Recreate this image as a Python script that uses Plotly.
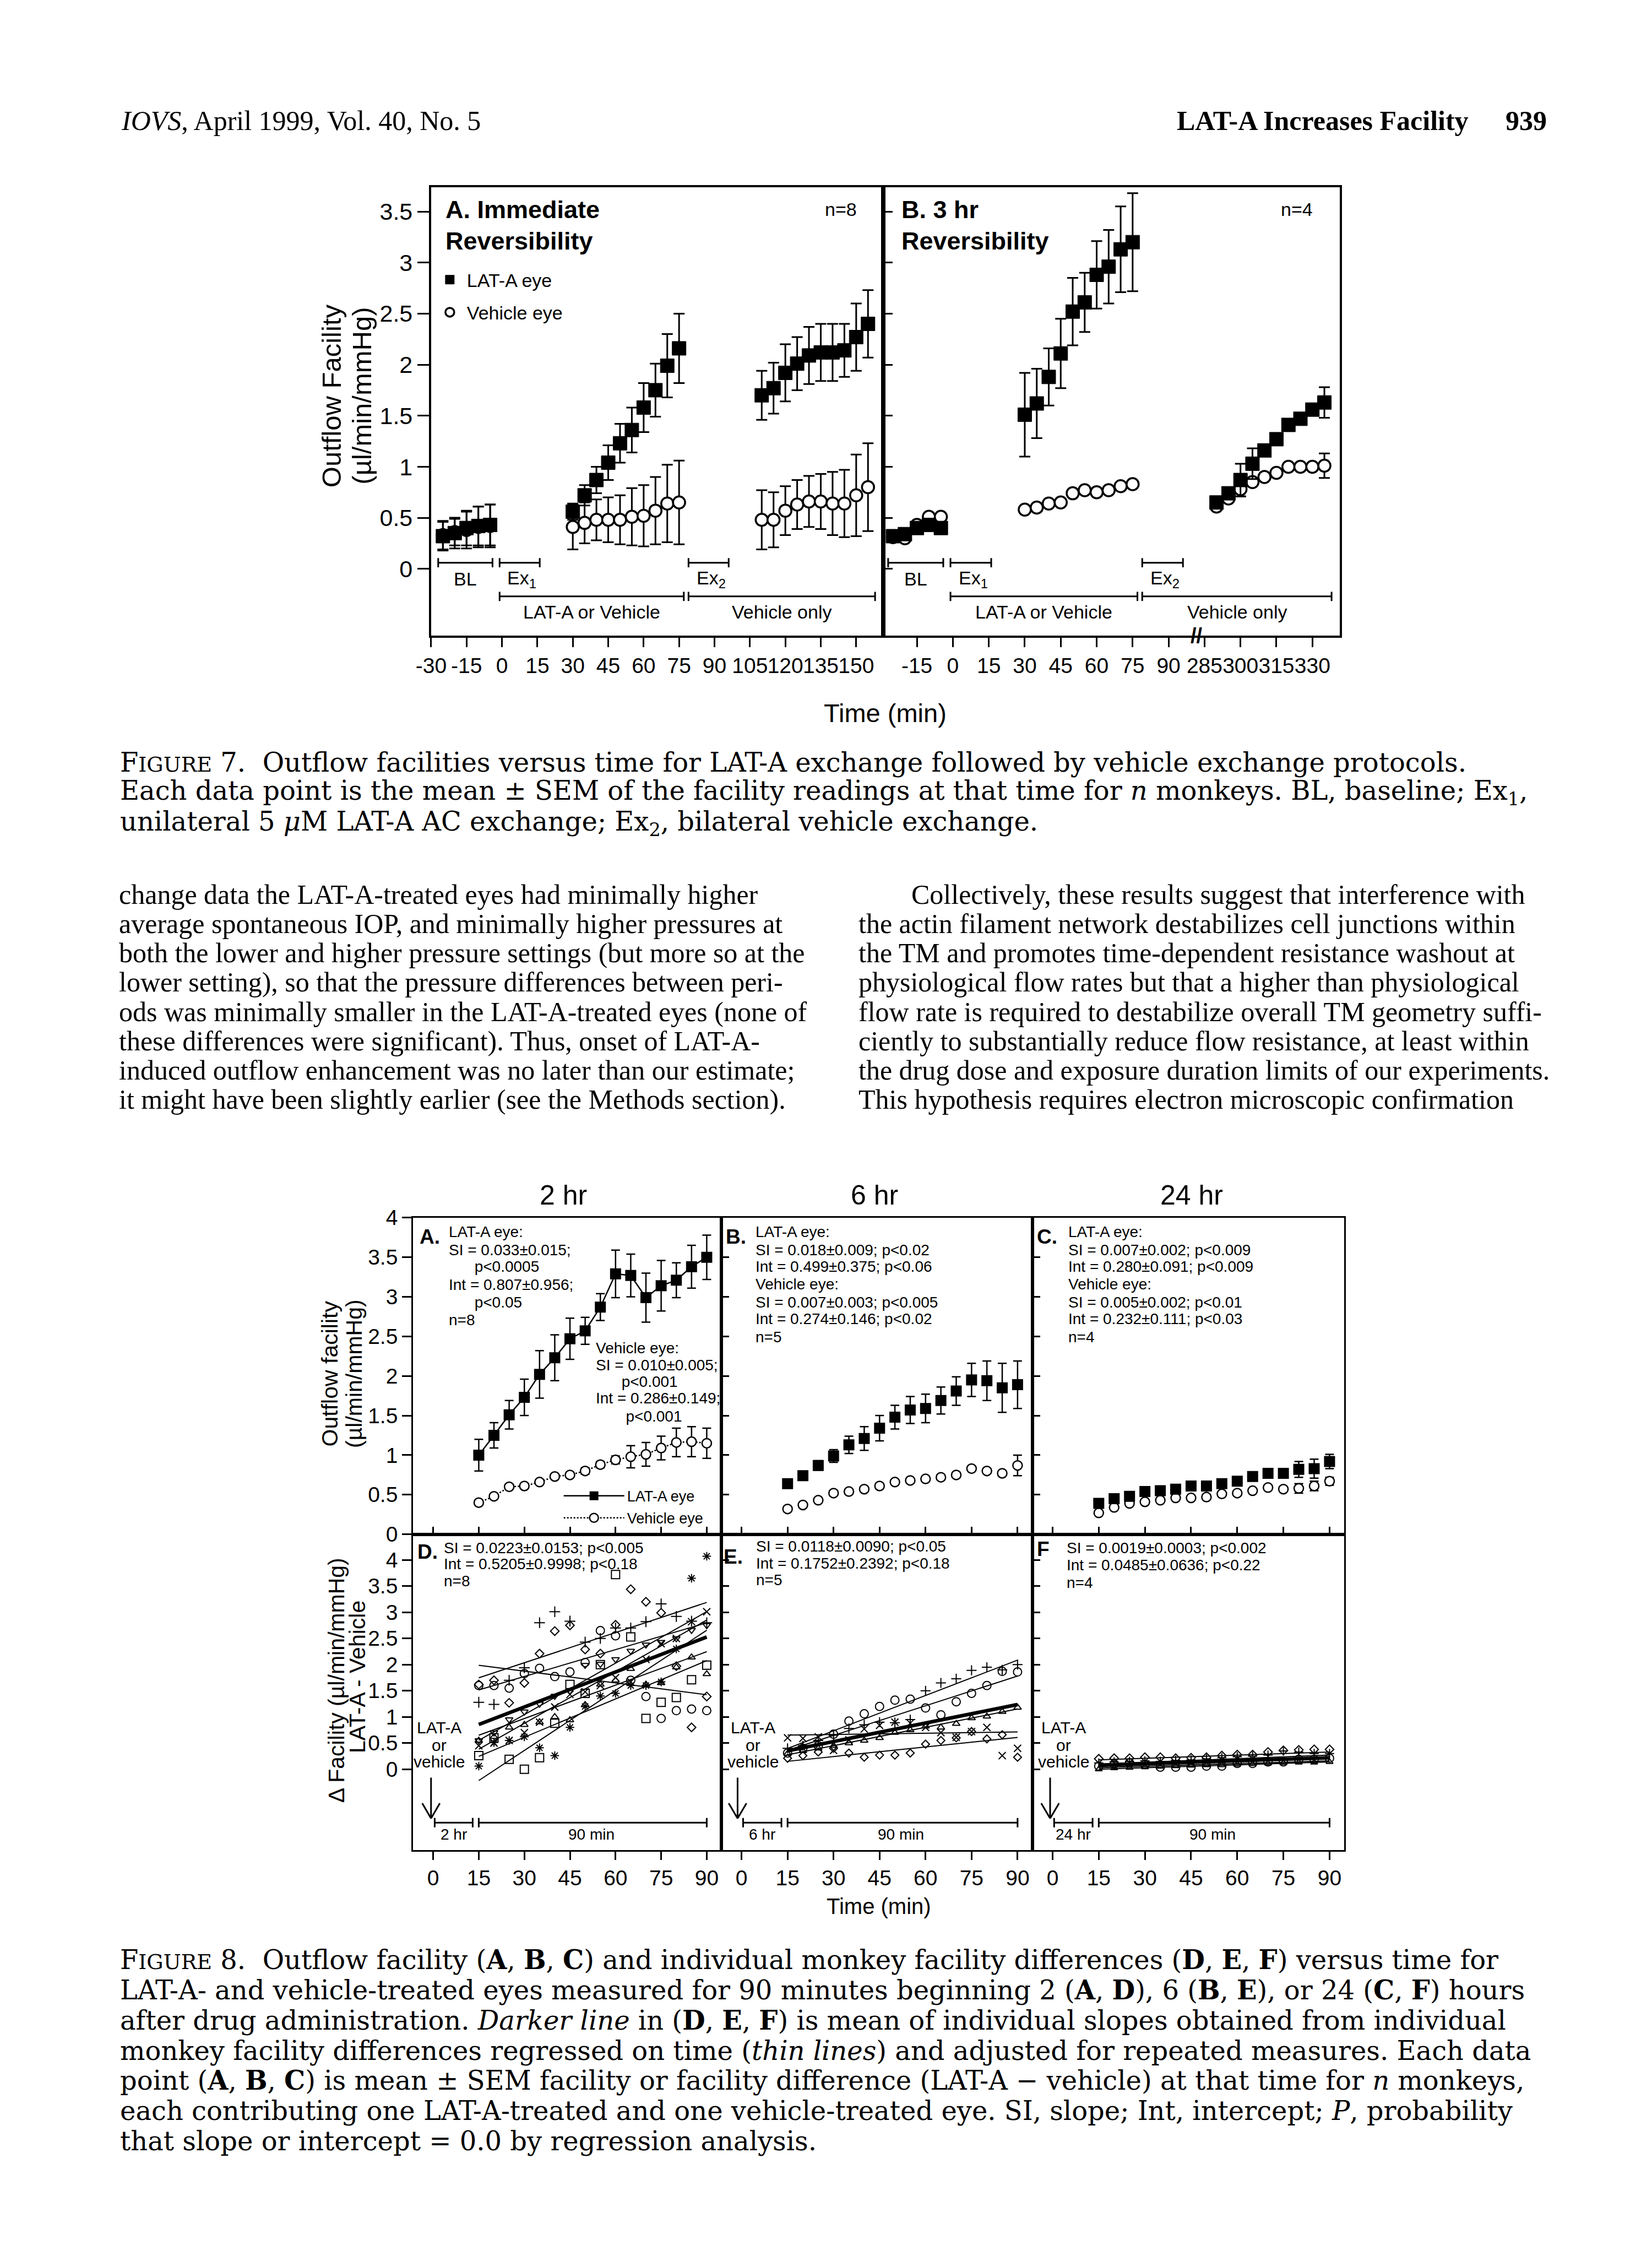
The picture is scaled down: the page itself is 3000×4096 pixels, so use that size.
import plotly.graph_objects as go

W, H = 3000, 4096

# ======================= DATA : FIGURE 7 =======================
f7_bl_t = [-25, -20, -15, -10, -5]
f7_ex1_t = [30, 35, 40, 45, 50, 55, 60, 65, 70, 75]
f7a_ex2_t = [110, 115, 120, 125, 130, 135, 140, 145, 150, 155]
f7b_ex2_t = [290, 295, 300, 305, 310, 315, 320, 325, 330, 335]
f7b_break_gap = 180  # minutes skipped by the axis break in panel B

f7a_lat_bl = [0.32, 0.35, 0.40, 0.42, 0.43]
f7a_lat_bl_sem = [0.14, 0.15, 0.17, 0.19, 0.20]
f7a_veh_bl = [0.33, 0.36, 0.38, 0.41, 0.42]
f7a_veh_bl_sem = [0.14, 0.13, 0.18, 0.20, 0.21]
f7a_lat_ex1 = [0.56, 0.72, 0.87, 1.04, 1.23, 1.36, 1.58, 1.75, 1.99, 2.16]
f7a_lat_ex1_sem = [0.08, 0.10, 0.13, 0.17, 0.19, 0.22, 0.24, 0.26, 0.31, 0.34]
f7a_veh_ex1 = [0.41, 0.45, 0.48, 0.48, 0.48, 0.51, 0.52, 0.57, 0.64, 0.65]
f7a_veh_ex1_sem = [0.22, 0.20, 0.20, 0.22, 0.24, 0.28, 0.30, 0.33, 0.38, 0.41]
f7a_lat_ex2 = [1.70, 1.77, 1.92, 2.01, 2.09, 2.12, 2.12, 2.14, 2.27, 2.40]
f7a_lat_ex2_sem = [0.24, 0.25, 0.28, 0.26, 0.28, 0.28, 0.28, 0.26, 0.33, 0.33]
f7a_veh_ex2 = [0.48, 0.48, 0.57, 0.63, 0.66, 0.66, 0.64, 0.64, 0.72, 0.80]
f7a_veh_ex2_sem = [0.29, 0.27, 0.24, 0.24, 0.25, 0.27, 0.31, 0.33, 0.40, 0.43]

f7b_lat_bl = [0.32, 0.34, 0.40, 0.43, 0.40]
f7b_lat_bl_sem = [0.02, 0.02, 0.02, 0.02, 0.02]
f7b_veh_bl = [0.31, 0.30, 0.43, 0.51, 0.51]
f7b_veh_bl_sem = [0.02, 0.02, 0.02, 0.02, 0.02]
f7b_lat_ex1 = [1.51, 1.62, 1.88, 2.11, 2.52, 2.61, 2.88, 2.96, 3.13, 3.20]
f7b_lat_ex1_sem = [0.41, 0.34, 0.28, 0.34, 0.33, 0.29, 0.33, 0.36, 0.42, 0.48]
f7b_veh_ex1 = [0.58, 0.60, 0.64, 0.65, 0.74, 0.77, 0.75, 0.77, 0.81, 0.83]
f7b_veh_ex1_sem = [0.03, 0.03, 0.03, 0.03, 0.03, 0.03, 0.03, 0.03, 0.03, 0.03]
f7b_lat_ex2 = [0.65, 0.74, 0.87, 1.03, 1.16, 1.27, 1.41, 1.47, 1.56, 1.63]
f7b_lat_ex2_sem = [0.03, 0.05, 0.16, 0.15, 0.05, 0.05, 0.05, 0.05, 0.05, 0.15]
f7b_veh_ex2 = [0.61, 0.69, 0.78, 0.85, 0.90, 0.94, 1.00, 1.00, 1.00, 1.01]
f7b_veh_ex2_sem = [0.03, 0.03, 0.07, 0.03, 0.03, 0.03, 0.03, 0.03, 0.03, 0.12]

f7a_xticks = [-30, -15, 0, 15, 30, 45, 60, 75, 90, 105, 120, 135, 150]
f7a_xticktext = ["-30", "-15", "0", "15", "30", "45", "60", "75", "90", "105", "120", "135", "150"]
f7b_xtick_minutes = [-15, 0, 15, 30, 45, 60, 75, 90, 285, 300, 315, 330]
f7b_xticktext = ["-15", "0", "15", "30", "45", "60", "75", "90", "285", "300", "315", "330"]
f7_yticks = [0, 0.5, 1, 1.5, 2, 2.5, 3, 3.5]
f7_yticktext = ["0", "0.5", "1", "1.5", "2", "2.5", "3", "3.5"]

# protocol windows (minutes, as plotted)
f7_bl_win = [-27, -4]
f7_ex1_win = [-1, 16]
f7_ex2_win = [79, 96]
f7_drug_win = [-1, 77]
f7_vehonly_win = [79, 158]

# ======================= DATA : FIGURE 8 =======================
f8_t = [15, 20, 25, 30, 35, 40, 45, 50, 55, 60, 65, 70, 75, 80, 85, 90]
f8_xticks = [0, 15, 30, 45, 60, 75, 90]
f8_xticktext = ["0", "15", "30", "45", "60", "75", "90"]
f8_yticks = [0, 0.5, 1, 1.5, 2, 2.5, 3, 3.5, 4]
f8_yticktext = ["0", "0.5", "1", "1.5", "2", "2.5", "3", "3.5", "4"]

# 2 hr
f8a_lat = [1.00, 1.25, 1.51, 1.73, 2.02, 2.23, 2.47, 2.57, 2.87, 3.29, 3.27, 2.99, 3.14, 3.21, 3.38, 3.50]
f8a_lat_sem = [0.20, 0.16, 0.18, 0.23, 0.30, 0.29, 0.26, 0.17, 0.17, 0.30, 0.27, 0.31, 0.32, 0.22, 0.27, 0.28]
f8a_veh = [0.40, 0.48, 0.60, 0.61, 0.66, 0.73, 0.75, 0.80, 0.88, 0.94, 0.98, 1.01, 1.09, 1.16, 1.17, 1.15]
f8a_veh_sem = [0.03, 0.03, 0.03, 0.03, 0.03, 0.03, 0.03, 0.04, 0.04, 0.05, 0.14, 0.15, 0.15, 0.18, 0.19, 0.19]
# 6 hr
f8b_lat = [0.64, 0.74, 0.87, 0.99, 1.13, 1.21, 1.34, 1.48, 1.57, 1.59, 1.69, 1.81, 1.95, 1.94, 1.85, 1.89]
f8b_lat_sem = [0.04, 0.05, 0.06, 0.08, 0.11, 0.15, 0.16, 0.15, 0.17, 0.18, 0.17, 0.18, 0.21, 0.25, 0.31, 0.30]
f8b_veh = [0.32, 0.37, 0.43, 0.52, 0.54, 0.57, 0.61, 0.66, 0.68, 0.70, 0.72, 0.75, 0.83, 0.80, 0.77, 0.87]
f8b_veh_sem = [0.03, 0.03, 0.03, 0.03, 0.03, 0.03, 0.03, 0.03, 0.03, 0.03, 0.03, 0.03, 0.03, 0.03, 0.03, 0.13]
# 24 hr
f8c_lat = [0.39, 0.45, 0.48, 0.54, 0.55, 0.57, 0.61, 0.61, 0.64, 0.67, 0.73, 0.77, 0.77, 0.82, 0.83, 0.92]
f8c_lat_sem = [0.03, 0.03, 0.03, 0.03, 0.03, 0.03, 0.03, 0.03, 0.03, 0.04, 0.04, 0.05, 0.06, 0.10, 0.12, 0.09]
f8c_veh = [0.27, 0.34, 0.39, 0.41, 0.43, 0.46, 0.46, 0.47, 0.51, 0.52, 0.55, 0.59, 0.57, 0.58, 0.61, 0.67]
f8c_veh_sem = [0.02, 0.02, 0.02, 0.02, 0.02, 0.02, 0.02, 0.02, 0.02, 0.02, 0.02, 0.03, 0.03, 0.06, 0.06, 0.05]

# individual monkey differences (LAT-A - vehicle)
f8d_circle = [1.60, 1.60, 1.55, 1.83, 1.93, 1.77, 1.86, 2.04, 2.65, 2.55, 1.70, 1.39, 0.97, 1.12, 1.15, 1.12]
f8d_diamond = [1.62, 1.70, 1.27, 1.65, 2.21, 2.64, 2.75, 2.29, 2.21, 2.76, 3.44, 3.20, 2.99, 1.97, 0.80, 1.39]
f8d_plus = [1.28, 1.24, 1.70, 1.94, 2.80, 3.01, 2.83, 2.43, 2.50, 2.70, 2.70, 2.82, 3.16, 2.92, 2.83, 2.80]
f8d_square = [0.26, 0.60, 0.19, 0.00, 0.22, 0.88, 1.62, 1.45, 2.00, 3.72, 2.53, 0.97, 1.28, 1.37, 1.71, 1.99]
f8d_cross = [0.45, 0.50, 0.55, 0.70, 0.90, 1.19, 1.43, 1.48, 1.60, 1.75, 1.67, 2.10, 2.40, 2.50, 2.82, 3.01]
f8d_star = [0.06, 0.51, 0.55, 0.62, 0.41, 0.26, 0.80, 1.20, 1.40, 1.45, 1.60, 1.60, 1.67, 2.30, 3.65, 4.07]
f8d_triup = [0.55, 0.62, 0.80, 0.85, 0.90, 1.00, 0.94, 1.23, 1.62, 1.70, 1.92, 1.62, 1.65, 1.95, 2.14, 1.82]
f8d_tridown = [0.55, 0.70, 0.95, 1.10, 1.25, 1.40, 1.50, 1.99, 2.01, 2.10, 2.26, 2.38, 2.43, 2.50, 2.66, 2.75]
f8d_slopes = [-0.0075, 0.0192, 0.0171, 0.0383, 0.0328, 0.0244, 0.0213, 0.0329]
f8d_ints = [2.10, 1.46, 1.26, -0.79, 0.06, -0.12, 0.33, -0.11]

f8e_circle = [0.31, 0.40, 0.45, 0.67, 0.92, 1.06, 1.20, 1.32, 1.34, 1.17, 1.04, 1.29, 1.45, 1.60, 1.87, 1.86]
f8e_plus = [0.40, 0.45, 0.55, 0.65, 0.78, 0.85, 0.90, 0.89, 0.95, 1.50, 1.65, 1.73, 1.89, 1.95, 1.90, 2.00]
f8e_cross = [0.60, 0.59, 0.62, 0.36, 0.56, 0.77, 0.84, 0.90, 0.88, 0.80, 0.70, 0.61, 0.72, 0.80, 0.26, 0.40]
f8e_triup = [0.30, 0.35, 0.40, 0.45, 0.50, 0.55, 0.60, 0.70, 0.75, 0.82, 0.80, 0.87, 0.98, 1.01, 1.10, 1.18]
f8e_diamond = [0.21, 0.26, 0.33, 0.40, 0.31, 0.23, 0.27, 0.27, 0.31, 0.48, 0.55, 0.60, 0.72, 0.58, 0.66, 0.23]
f8e_slopes = [0.0189, 0.0225, 0.0008, 0.0117, 0.0061]
f8e_ints = [0.08, 0.06, 0.64, 0.10, 0.06]

f8f_circle = [0.06, 0.10, 0.12, 0.09, 0.04, 0.04, 0.04, 0.06, 0.06, 0.11, 0.11, 0.14, 0.14, 0.19, 0.19, 0.21]
f8f_diamond = [0.20, 0.21, 0.21, 0.23, 0.23, 0.21, 0.22, 0.23, 0.26, 0.28, 0.28, 0.33, 0.36, 0.37, 0.38, 0.38]
f8f_plus = [0.12, 0.14, 0.15, 0.16, 0.15, 0.17, 0.18, 0.20, 0.22, 0.24, 0.25, 0.27, 0.35, 0.33, 0.30, 0.30]
f8f_triup = [0.00, 0.02, 0.03, 0.04, 0.05, 0.06, 0.07, 0.08, 0.08, 0.09, 0.10, 0.11, 0.12, 0.13, 0.13, 0.14]
f8f_slopes = [0.00173, 0.0020, 0.00227, 0.00187]
f8f_ints = [0.004, 0.15, 0.066, -0.028]

f8_fit_t = [15, 90]
f8_mean_slope = [0.0223, 0.0118, 0.0019]
f8_mean_int = [0.5205, 0.1752, 0.0485]
f8_pre_win = [0.5, 13]
f8_run_win = [15, 90]
f8_pre_labels = ["2 hr", "6 hr", "24 hr"]
f8_col_titles = ["2 hr", "6 hr", "24 hr"]

# ======================= TEXT =======================
header_left = "<i>IOVS</i>, April 1999, Vol. 40, No. 5"
header_right = "<b>LAT-A Increases Facility</b>"
header_page = "<b>939</b>"

cap7 = [
    "F<span style='font-size:38px'>IGURE</span> 7.  Outflow facilities versus time for LAT-A exchange followed by vehicle exchange protocols.",
    "Each data point is the mean ± SEM of the facility readings at that time for <i>n</i> monkeys. BL, baseline; Ex<sub>1</sub>,",
    "unilateral 5 <i>μ</i>M LAT-A AC exchange; Ex<sub>2</sub>, bilateral vehicle exchange.",
]
body_left = [
    "change data the LAT-A-treated eyes had minimally higher",
    "average spontaneous IOP, and minimally higher pressures at",
    "both the lower and higher pressure settings (but more so at the",
    "lower setting), so that the pressure differences between peri-",
    "ods was minimally smaller in the LAT-A-treated eyes (none of",
    "these differences were significant). Thus, onset of LAT-A-",
    "induced outflow enhancement was no later than our estimate;",
    "it might have been slightly earlier (see the Methods section).",
]
body_right = [
    "Collectively, these results suggest that interference with",
    "the actin filament network destabilizes cell junctions within",
    "the TM and promotes time-dependent resistance washout at",
    "physiological flow rates but that a higher than physiological",
    "flow rate is required to destabilize overall TM geometry suffi-",
    "ciently to substantially reduce flow resistance, at least within",
    "the drug dose and exposure duration limits of our experiments.",
    "This hypothesis requires electron microscopic confirmation",
]
cap8 = [
    "F<span style='font-size:38px'>IGURE</span> 8.  Outflow facility (<b>A</b>, <b>B</b>, <b>C</b>) and individual monkey facility differences (<b>D</b>, <b>E</b>, <b>F</b>) versus time for",
    "LAT-A- and vehicle-treated eyes measured for 90 minutes beginning 2 (<b>A</b>, <b>D</b>), 6 (<b>B</b>, <b>E</b>), or 24 (<b>C</b>, <b>F</b>) hours",
    "after drug administration. <i>Darker line</i> in (<b>D</b>, <b>E</b>, <b>F</b>) is mean of individual slopes obtained from individual",
    "monkey facility differences regressed on time (<i>thin lines</i>) and adjusted for repeated measures. Each data",
    "point (<b>A</b>, <b>B</b>, <b>C</b>) is mean ± SEM facility or facility difference (LAT-A − vehicle) at that time for <i>n</i> monkeys,",
    "each contributing one LAT-A-treated and one vehicle-treated eye. SI, slope; Int, intercept; <i>P</i>, probability",
    "that slope or intercept = 0.0 by regression analysis.",
]
f8_top_text = [
    ["LAT-A eye:", "SI = 0.033±0.015;", "      p&lt;0.0005", "Int = 0.807±0.956;", "      p&lt;0.05", "n=8"],
    ["LAT-A eye:", "SI = 0.018±0.009; p&lt;0.02", "Int = 0.499±0.375; p&lt;0.06", "Vehicle eye:",
     "SI = 0.007±0.003; p&lt;0.005", "Int = 0.274±0.146; p&lt;0.02", "n=5"],
    ["LAT-A eye:", "SI = 0.007±0.002; p&lt;0.009", "Int = 0.280±0.091; p&lt;0.009", "Vehicle eye:",
     "SI = 0.005±0.002; p&lt;0.01", "Int = 0.232±0.111; p&lt;0.03", "n=4"],
]
f8a_veh_text = ["Vehicle eye:", "SI = 0.010±0.005;", "      p&lt;0.001", "Int = 0.286±0.149;", "       p&lt;0.001"]
f8_bot_text = [
    ["SI = 0.0223±0.0153; p&lt;0.005", "Int = 0.5205±0.9998; p&lt;0.18", "n=8"],
    ["SI = 0.0118±0.0090; p&lt;0.05", "Int = 0.1752±0.2392; p&lt;0.18", "n=5"],
    ["SI = 0.0019±0.0003; p&lt;0.002", "Int = 0.0485±0.0636; p&lt;0.22", "n=4"],
]

# ======================= STYLE HELPERS =======================
SANS = "Liberation Sans, Arial, sans-serif"
NARROW = "Liberation Sans Narrow, Arial Narrow, Liberation Sans, Arial, sans-serif"
SERIF = "Liberation Serif, Times New Roman, serif"
CAPSERIF = "DejaVu Serif, serif"


def PX(v):
    return v / W


def PY(v):
    return 1 - v / H


anns = []
shapes = []


def T(text, x, y, xref="paper", yref="paper", size=30, family=SANS, xanchor="center",
      yanchor="middle", angle=0):
    anns.append(dict(text=text, x=x, y=y, xref=xref, yref=yref, showarrow=False,
                     font=dict(size=size, family=family, color="black"),
                     xanchor=xanchor, yanchor=yanchor, textangle=angle))


def seg(x0, y0, x1, y1, xref, yref, w):
    shapes.append(dict(type="line", x0=x0, y0=y0, x1=x1, y1=y1, xref=xref, yref=yref,
                       line=dict(color="black", width=w)))


def bracket(win, y, h, xref, yref, w):
    seg(win[0], y, win[1], y, xref, yref, w)
    seg(win[0], y - h, win[0], y + h, xref, yref, w)
    seg(win[1], y - h, win[1], y + h, xref, yref, w)


def down_arrow(x, y_top, y_tip, head_dx, head_dy, xref, yref, w):
    seg(x, y_top, x, y_tip, xref, yref, w)
    seg(x - head_dx, y_tip + head_dy, x, y_tip, xref, yref, w)
    seg(x + head_dx, y_tip + head_dy, x, y_tip, xref, yref, w)


fig = go.Figure()

# ======================= FIGURE 7 TRACES =======================
def f7_panel(xa, ya, lat_t, lat_v, lat_e, veh_t, veh_v, veh_e, show):
    fig.add_trace(go.Scatter(
        x=veh_t, y=veh_v, mode="markers", xaxis=xa, yaxis=ya, name="Vehicle eye",
        legend="legend", legendgroup="veh7", legendrank=2, showlegend=show,
        marker=dict(symbol="circle", size=22, color="white", line=dict(color="black", width=3.5)),
        error_y=dict(type="data", array=veh_e, color="black", thickness=3, width=10)))
    fig.add_trace(go.Scatter(
        x=lat_t, y=lat_v, mode="markers", xaxis=xa, yaxis=ya, name="LAT-A eye",
        legend="legend", legendgroup="lat7", legendrank=1, showlegend=show,
        marker=dict(symbol="square", size=25, color="black", line=dict(color="black", width=1)),
        error_y=dict(type="data", array=lat_e, color="black", thickness=3, width=10)))


f7a_t_all = f7_bl_t + f7_ex1_t + f7a_ex2_t
f7_panel("x", "y",
         f7a_t_all, f7a_lat_bl + f7a_lat_ex1 + f7a_lat_ex2, f7a_lat_bl_sem + f7a_lat_ex1_sem + f7a_lat_ex2_sem,
         f7a_t_all, f7a_veh_bl + f7a_veh_ex1 + f7a_veh_ex2, f7a_veh_bl_sem + f7a_veh_ex1_sem + f7a_veh_ex2_sem,
         True)
f7b_t_all = f7_bl_t + f7_ex1_t + [t - f7b_break_gap for t in f7b_ex2_t]
f7_panel("x2", "y2",
         f7b_t_all, f7b_lat_bl + f7b_lat_ex1 + f7b_lat_ex2, f7b_lat_bl_sem + f7b_lat_ex1_sem + f7b_lat_ex2_sem,
         f7b_t_all, f7b_veh_bl + f7b_veh_ex1 + f7b_veh_ex2, f7b_veh_bl_sem + f7b_veh_ex1_sem + f7b_veh_ex2_sem,
         False)

# ======================= FIGURE 8 TRACES =======================
top_sets = [("x3", "y3", f8a_lat, f8a_lat_sem, f8a_veh, f8a_veh_sem, True),
            ("x4", "y4", f8b_lat, f8b_lat_sem, f8b_veh, f8b_veh_sem, False),
            ("x5", "y5", f8c_lat, f8c_lat_sem, f8c_veh, f8c_veh_sem, False)]
for xa, ya, lat, lat_e, veh, veh_e, first in top_sets:
    fig.add_trace(go.Scatter(
        x=f8_t, y=veh, xaxis=xa, yaxis=ya, mode="lines+markers" if first else "markers",
        name="Vehicle eye", legend="legend2", legendgroup="veh8", legendrank=2, showlegend=first,
        line=dict(color="black", width=2.5, dash="dot"),
        marker=dict(symbol="circle", size=17, color="white", line=dict(color="black", width=2.5)),
        error_y=dict(type="data", array=veh_e, color="black", thickness=2.5, width=8)))
    fig.add_trace(go.Scatter(
        x=f8_t, y=lat, xaxis=xa, yaxis=ya, mode="lines+markers" if first else "markers",
        name="LAT-A eye", legend="legend2", legendgroup="lat8", legendrank=1, showlegend=first,
        line=dict(color="black", width=2.5),
        marker=dict(symbol="square", size=20, color="black"),
        error_y=dict(type="data", array=lat_e, color="black", thickness=2.5, width=8)))

bot_sets = [
    ("x6", "y6",
     [f8d_circle, f8d_diamond, f8d_plus, f8d_square, f8d_cross, f8d_star, f8d_triup, f8d_tridown],
     ["circle-open", "diamond-open", "cross-thin-open", "square-open", "x-thin-open", "asterisk-open",
      "triangle-up-open", "triangle-down-open"],
     [15, 12, 14, 15, 13, 13, 12, 12], f8d_slopes, f8d_ints, 0),
    ("x7", "y7",
     [f8e_circle, f8e_plus, f8e_cross, f8e_triup, f8e_diamond],
     ["circle-open", "cross-thin-open", "x-thin-open", "triangle-up-open", "diamond-open"],
     [15, 13, 13, 12, 11], f8e_slopes, f8e_ints, 1),
    ("x8", "y8",
     [f8f_circle, f8f_diamond, f8f_plus, f8f_triup],
     ["circle-open", "diamond-open", "cross-thin-open", "triangle-up-open"],
     [15, 12, 12, 11], f8f_slopes, f8f_ints, 2),
]
for xa, ya, series, syms, sizes, slopes, ints, k in bot_sets:
    for vals, sym, sz in zip(series, syms, sizes):
        fig.add_trace(go.Scatter(x=f8_t, y=vals, xaxis=xa, yaxis=ya, mode="markers", showlegend=False,
                                 marker=dict(symbol=sym, size=sz, color="black",
                                             line=dict(color="black", width=2))))
    for s, b in zip(slopes, ints):
        fig.add_trace(go.Scatter(x=f8_fit_t, y=[b + s * t for t in f8_fit_t], xaxis=xa, yaxis=ya,
                                 mode="lines", showlegend=False, line=dict(color="black", width=2)))
    fig.add_trace(go.Scatter(x=f8_fit_t, y=[f8_mean_int[k] + f8_mean_slope[k] * t for t in f8_fit_t],
                             xaxis=xa, yaxis=ya, mode="lines", showlegend=False,
                             line=dict(color="black", width=6.5)))

# ======================= AXES =======================
def axis(domain, rng, anchor, ticks, tickvals, ticktext, showlabels, fsize, family, lw, tl, tw):
    return dict(domain=domain, range=rng, anchor=anchor, showline=True, linecolor="black",
                linewidth=lw, mirror=True, ticks=ticks, ticklen=tl, tickwidth=tw, tickcolor="black",
                tickmode="array", tickvals=tickvals, ticktext=ticktext, showticklabels=showlabels,
                tickangle=0, tickfont=dict(size=fsize, family=family, color="black"),
                showgrid=False, zeroline=False, fixedrange=True)


f7_ydom = [PY(1145), PY(322)]
f7_yr = [-0.654, 3.74]
f7b_xtickpos = [m - f7b_break_gap if m > 200 else m for m in f7b_xtick_minutes]

lay = dict(
    xaxis=axis([PX(762), PX(1591)], [-30, 161.5], "y", "outside", f7a_xticks, f7a_xticktext, True, 39, SANS, 4, 17, 3),
    yaxis=axis(f7_ydom, f7_yr, "x", "outside", f7_yticks, f7_yticktext, True, 43, SANS, 4, 21, 3),
    xaxis2=axis([PX(1591), PX(2428)], [-29, 161.5], "y2", "outside", f7b_xtickpos, f7b_xticktext, True, 39, SANS, 4, 17, 3),
    yaxis2=axis(f7_ydom, f7_yr, "x2", "inside", f7_yticks, f7_yticktext, False, 40, SANS, 4, 17, 3),
)
f8_xdoms = [[PX(729), PX(1294)], [PX(1294), PX(1864)], [PX(1864), PX(2436)]]
f8_top_dom = [PY(2794), PY(2213)]
f8_bot_dom = [PY(3373), PY(2794)]
f8_xr = [-6.6, 94.8]
for i in range(3):
    n_top = 3 + i
    n_bot = 6 + i
    lay["xaxis%d" % n_top] = axis(f8_xdoms[i], f8_xr, "y%d" % n_top, "inside", f8_xticks, f8_xticktext, False, 39, NARROW, 3, 14, 2.5)
    lay["yaxis%d" % n_top] = axis(f8_top_dom, [0, 4], "x%d" % n_top, "outside" if i == 0 else "inside",
                                  f8_yticks, f8_yticktext, i == 0, 39, NARROW, 3, 17 if i == 0 else 14, 2.5)
    lay["xaxis%d" % n_bot] = axis(f8_xdoms[i], f8_xr, "y%d" % n_bot, "outside", f8_xticks, f8_xticktext, True, 39, NARROW, 3, 15, 2.5)
    lay["yaxis%d" % n_bot] = axis(f8_bot_dom, [-1.54, 4.49], "x%d" % n_bot, "outside" if i == 0 else "inside",
                                  f8_yticks, f8_yticktext, i == 0, 39, NARROW, 3, 17 if i == 0 else 14, 2.5)

# ======================= FIGURE 7 ANNOTATIONS =======================
for xr, yr, title, nlab, tx in [("x", "y", "A. Immediate", "n=8", -24.4), ("x2", "y2", "B. 3 hr", "n=4", -21.8)]:
    T("<b>%s</b>" % title, tx, 3.52, xr, yr, 45, SANS, "left")
    T("<b>Reversibility</b>", tx, 3.21, xr, yr, 45, SANS, "left")
    T(nlab, 143.5, 3.52, xr, yr, 34, SANS)
    for win in (f7_bl_win, f7_ex1_win, f7_ex2_win):
        bracket(win, 0.06, 0.045, xr, yr, 3)
    for win in (f7_drug_win, f7_vehonly_win):
        bracket(win, -0.27, 0.045, xr, yr, 3)
    T("BL", (f7_bl_win[0] + f7_bl_win[1]) / 2, -0.1, xr, yr, 34, SANS)
    T("Ex<sub>1</sub>", (f7_ex1_win[0] + f7_ex1_win[1]) / 2 + 1, -0.1, xr, yr, 34, SANS)
    T("Ex<sub>2</sub>", (f7_ex2_win[0] + f7_ex2_win[1]) / 2 + 1, -0.1, xr, yr, 34, SANS)
    T("LAT-A or Vehicle", (f7_drug_win[0] + f7_drug_win[1]) / 2, -0.42, xr, yr, 34, SANS)
    T("Vehicle only", (f7_vehonly_win[0] + f7_vehonly_win[1]) / 2, -0.42, xr, yr, 34, SANS)
T("<b>//</b>", 101.6, f7_yr[0], "x2", "y2", 38, SANS)
T("Outflow Facility", PX(579), PY(705), size=49, family=SANS, angle=-90)
T("(µl/min/mmHg)", PX(635), PY(705), size=49, family=SANS, angle=-90)
T("Time (min)", PX(1594), PY(1287), size=47, family=SANS)

# ======================= FIGURE 8 ANNOTATIONS =======================
col_x = [1004, 1575, 2156]
for i in range(3):
    T(f8_col_titles[i], PX(col_x[i]), PY(2172), size=50, family=NARROW)

top_line_y = [[3.82, 3.59, 3.38, 3.15, 2.93, 2.71], [3.82, 3.59, 3.38, 3.16, 2.93, 2.72, 2.49],
              [3.82, 3.59, 3.38, 3.16, 2.93, 2.72, 2.49]]
top_letter = [("A.", -1.2), ("B.", -1.8), ("C.", -1.7)]
top_left_x = [4.7, 4.2, 4.7]
for i in range(3):
    xr, yr = "x%d" % (3 + i), "y%d" % (3 + i)
    T("<b>%s</b>" % top_letter[i][0], top_letter[i][1], 3.76, xr, yr, 37, NARROW)
    for line, yy in zip(f8_top_text[i], top_line_y[i]):
        T(line, top_left_x[i], yy, xr, yr, 28, NARROW, "left")
for line, yy in zip(f8a_veh_text, [2.35, 2.14, 1.93, 1.72, 1.49]):
    T(line, 53.1, yy, "x3", "y3", 28, NARROW, "left")

bot_letter = [("D.", -1.9, 4.16), ("E.", -2.7, 4.06), ("F", -3.1, 4.21)]
bot_left_x = [3.2, 4.4, 4.2]
bot_line_y = [[4.23, 3.92, 3.60], [4.26, 3.93, 3.62], [4.23, 3.90, 3.57]]
lata_x = [2.0, 3.7, 3.5]
arrow_x = [-0.7, -1.3, -0.8]
for i in range(3):
    xr, yr = "x%d" % (6 + i), "y%d" % (6 + i)
    T("<b>%s</b>" % bot_letter[i][0], bot_letter[i][1], bot_letter[i][2], xr, yr, 37, NARROW)
    for line, yy in zip(f8_bot_text[i], bot_line_y[i]):
        T(line, bot_left_x[i], yy, xr, yr, 28, NARROW, "left")
    T("LAT-A", lata_x[i], 0.80, xr, yr, 30, NARROW)
    T("or", lata_x[i], 0.46, xr, yr, 30, NARROW)
    T("vehicle", lata_x[i], 0.14, xr, yr, 30, NARROW)
    down_arrow(arrow_x[i], -0.16, -0.94, 2.9, 0.29, xr, yr, 3)
    bracket(f8_pre_win, -1.02, 0.09, xr, yr, 3)
    bracket(f8_run_win, -1.02, 0.09, xr, yr, 3)
    T(f8_pre_labels[i], (f8_pre_win[0] + f8_pre_win[1]) / 2, -1.24, xr, yr, 28, NARROW)
    T("90 min", (f8_run_win[0] + f8_run_win[1]) / 2 - 0.5, -1.24, xr, yr, 28, NARROW)

T("Outflow facility", PX(576), PY(2499), size=41, family=NARROW, angle=-90)
T("(µl/min/mmHg)", PX(621), PY(2499), size=41, family=NARROW, angle=-90)
T("Δ Facility (µl/min/mmHg)", PX(588), PY(3062), size=41, family=NARROW, angle=-90)
T("LAT-A - Vehicle", PX(627), PY(3056), size=41, family=NARROW, angle=-90)
T("Time (min)", PX(1583), PY(3477), size=40, family=NARROW)

# ======================= PAGE TEXT =======================
T(header_left, PX(192), PY(200), size=50, family=SERIF, xanchor="left")
T(header_right, PX(2666), PY(200), size=50, family=SERIF, xanchor="right")
T(header_page, PX(2809), PY(200), size=50, family=SERIF, xanchor="right")

for i, line in enumerate(cap7):
    T(line, PX(190), PY(1377 + i * 56), size=48, family=CAPSERIF, xanchor="left")
for i, line in enumerate(body_left):
    T(line, PX(188), PY(1620 + i * 53.7), size=50, family=SERIF, xanchor="left")
for i, line in enumerate(body_right):
    T(line, PX(1640 if i == 0 else 1543), PY(1620 + i * 53.7), size=50, family=SERIF, xanchor="left")
for i, line in enumerate(cap8):
    T(line, PX(190), PY(3575 + i * 55.3), size=48, family=CAPSERIF, xanchor="left")

fig.update_layout(
    width=W, height=H, margin=dict(l=0, r=0, t=0, b=0),
    paper_bgcolor="white", plot_bgcolor="rgba(0,0,0,0)",
    font=dict(family=SANS, color="black"),
    annotations=anns, shapes=shapes,
    legend=dict(x=PX(765), y=PY(463), xanchor="left", yanchor="top", bgcolor="rgba(0,0,0,0)",
                font=dict(size=34, family=SANS, color="black"), itemwidth=52,
                traceorder="grouped", tracegroupgap=12),
    legend2=dict(x=PX(1000), y=PY(2699), xanchor="left", yanchor="top", bgcolor="rgba(0,0,0,0)",
                 font=dict(size=27, family=NARROW, color="black"), itemwidth=110,
                 traceorder="grouped", tracegroupgap=2),
    **lay,
)

fig.write_html("out.html")
